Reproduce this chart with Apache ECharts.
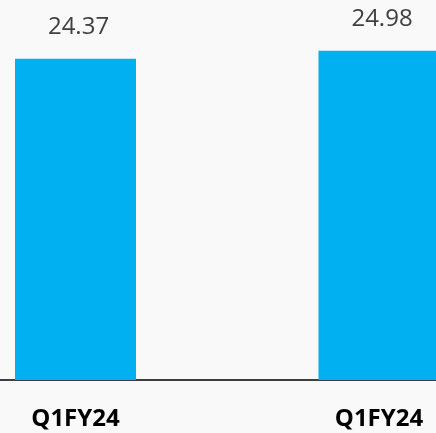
<!DOCTYPE html>
<html>
<head>
    <meta charset="utf-8">
    <title>Q1FY24</title>
    <script src="https://cdn.jsdelivr.net/npm/echarts@6.0.0/dist/echarts.min.js"></script>
    <style>
        html, body { margin: 0; padding: 0; background: #f9f9fa; }
    </style>
</head>
<body>
    <div id="main" style="width: 436px;height:433px;"></div>

<script>
// 数据
const categories = ['Q1FY24', 'Q1FY24 '];
const values = [24.37, 24.98];

const myChart = echarts.init(document.getElementById('main'));

const option = {
    backgroundColor: '#f9f9fa',
    grid: [
        // 柱子所在的网格
        { left: 75.5, right: 57, top: 11, bottom: 53, containLabel: false },
        // 只画整条底线
        { left: 0, right: 0, top: 11, bottom: 53, containLabel: false }
    ],
    xAxis: [{
        type: 'category',
        gridIndex: 0,
        data: categories,
        boundaryGap: false,
        axisLine: { show: false },
        axisTick: { show: false },
        axisLabel: {
            color: '#000',
            fontFamily: 'Open Sans',
            fontWeight: 'bold',
            fontSize: 24,
            margin: 27,
            formatter: (v) => v.trim()
        }
    }, {
        type: 'category',
        gridIndex: 1,
        data: [''],
        axisLine: { lineStyle: { color: '#000', width: 1.5 } },
        axisTick: { show: false },
        axisLabel: { show: false }
    }],
    yAxis: [
        { type: 'value', gridIndex: 0, min: 0, max: 28, show: false },
        { type: 'value', gridIndex: 1, min: 0, max: 28, show: false }
    ],
    series: [{
        type: 'bar',
        xAxisIndex: 0,
        yAxisIndex: 0,
        data: values,
        barWidth: 121,
        clip: false,
        itemStyle: { color: '#00b0f0' },
        label: {
            show: true,
            position: 'top',
            distance: 20,
            color: '#404040',
            fontFamily: 'Open Sans',
            fontSize: 24,
            offset: [3, 0],
            formatter: (p) => p.value.toFixed(2)
        }
    }]
};
myChart.setOption(option);
</script>
</body>
</html>
